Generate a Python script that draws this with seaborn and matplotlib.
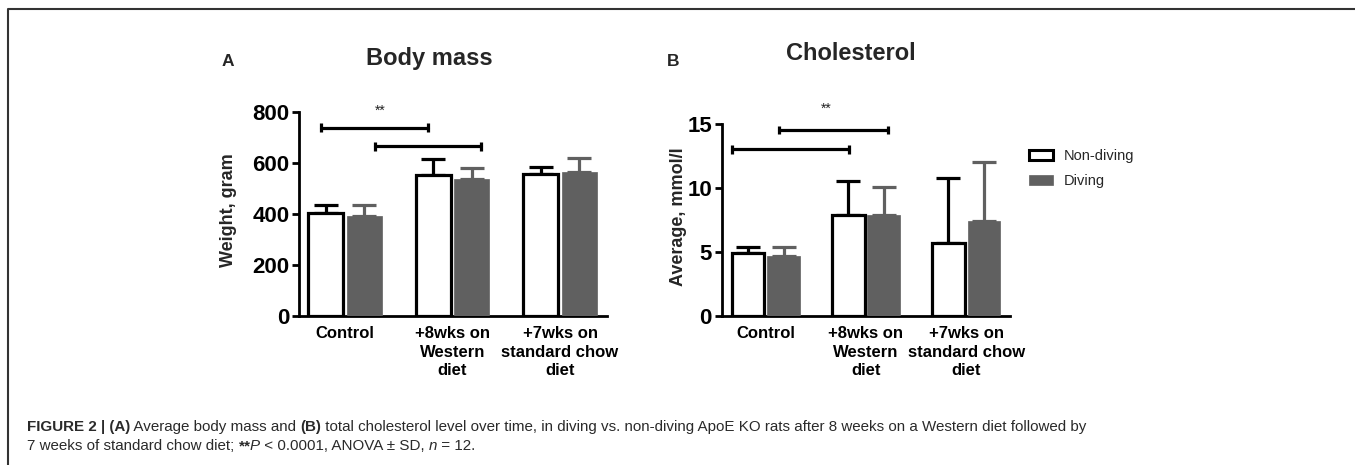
import numpy as np
import pandas as pd
import matplotlib
matplotlib.use("Agg")
import matplotlib.pyplot as plt
from matplotlib.patches import Patch
from matplotlib.lines import Line2D
import seaborn as sns

# ---------------- data ----------------
categories = ["Control", "+8wks on\nWestern\ndiet", "+7wks on\nstandard chow\ndiet"]
groups = ["Non-diving", "Diving"]

mass_nondiving = [405, 553, 556]
mass_nondiving_sd = [30, 61, 29]
mass_diving = [393, 538, 563]
mass_diving_sd = [42, 40, 55]

chol_nondiving = [4.9, 7.9, 5.74]
chol_nondiving_sd = [0.52, 2.69, 5.03]
chol_diving = [4.69, 7.9, 7.46]
chol_diving_sd = [0.68, 2.22, 4.61]

mass_yticks = [0, 200, 400, 600, 800]
chol_yticks = [0, 5, 10, 15]

# significance brackets: (x_start, x_end, y)
mass_brackets = [(-0.226, 0.769, 737), (0.279, 1.265, 664)]
mass_star = (0.326, 805)
chol_brackets = [(0.131, 1.221, 14.55), (-0.34, 0.832, 13.04)]
chol_star = (0.607, 16.2)

GRAY = "#606060"

sns.set_style("ticks")
plt.rcParams["font.family"] = ["Liberation Sans", "DejaVu Sans"]

W, H = 1355, 465
fig = plt.figure(figsize=(W / 100, H / 100), dpi=100)


def make_df(nd, dv):
    rows = []
    for c, v in zip(categories, nd):
        rows.append({"cat": c, "group": "Non-diving", "val": v})
    for c, v in zip(categories, dv):
        rows.append({"cat": c, "group": "Diving", "val": v})
    return pd.DataFrame(rows)


def panel(rect, nd, nd_sd, dv, dv_sd, yticks, ylabel, label_x, brackets, star, xlim):
    ax = fig.add_axes(rect)
    df = make_df(nd, dv)
    sns.barplot(data=df, x="cat", y="val", hue="group", order=categories,
                hue_order=groups, palette={"Non-diving": "white", "Diving": GRAY},
                errorbar=None, width=0.71, gap=0.08, legend=False, ax=ax,
                saturation=1)
    for cont, sds, col in [(ax.containers[0], nd_sd, "black"), (ax.containers[1], dv_sd, GRAY)]:
        xs, ys = [], []
        for bar in cont:
            if col == "black":
                bar.set_edgecolor("black")
                bar.set_linewidth(2.3)
            else:
                bar.set_edgecolor(GRAY)
                bar.set_linewidth(0.5)
            bar.set_zorder(3)
            xs.append(bar.get_x() + bar.get_width() / 2)
            ys.append(bar.get_height())
        ax.errorbar(xs, ys, yerr=[np.zeros(len(sds)), sds], fmt="none",
                    ecolor=col, elinewidth=2.3, capsize=8.5, capthick=2.3, zorder=2)
    ax.set_ylim(yticks[0], yticks[-1])
    ax.set_yticks(yticks)
    ax.set_xlim(*xlim)
    ax.set_xlabel("")
    ax.set_ylabel(ylabel, fontsize=13, fontweight="bold")
    ax.yaxis.set_label_coords(label_x, 0.52)
    for sp in ["top", "right"]:
        ax.spines[sp].set_visible(False)
    for sp in ["left", "bottom"]:
        ax.spines[sp].set_linewidth(2.0)
        ax.spines[sp].set_color("black")
        ax.spines[sp].set_capstyle("projecting")
    ax.tick_params(axis="y", length=5, width=2.0, labelsize=16, pad=2, colors="black")
    ax.tick_params(axis="x", length=0, labelsize=12, pad=7, colors="black")
    for t in ax.get_yticklabels() + ax.get_xticklabels():
        t.set_fontweight("bold")
    for t in ax.get_xticklabels():
        t.set_linespacing(1.32)
    yr = yticks[-1] - yticks[0]
    tick = yr * 0.022
    for x0, x1, y in brackets:
        ax.plot([x0, x1], [y, y], color="black", lw=2.3, clip_on=False, zorder=5)
        for xx in (x0, x1):
            ax.plot([xx, xx], [y - tick, y + tick], color="black", lw=2.3,
                    clip_on=False, zorder=5, solid_capstyle="butt")
    ax.text(star[0], star[1], "**", ha="center", va="center", fontsize=10,
            clip_on=False, color="#222222")
    return ax


axA = panel([299 / W, 1 - 316 / H, 308 / W, (316 - 111.7) / H],
            mass_nondiving, mass_nondiving_sd, mass_diving, mass_diving_sd,
            mass_yticks, "Weight, gram", -0.202, mass_brackets, mass_star, (-0.428, 2.437))
axB = panel([721.7 / W, 1 - 316 / H, 288 / W, (316 - 124.3) / H],
            chol_nondiving, chol_nondiving_sd, chol_diving, chol_diving_sd,
            chol_yticks, "Average, mmol/l", -0.1215, chol_brackets, chol_star, (-0.44, 2.435))

# titles and panel letters
fig.text(429 / W, 1 - 58 / H, "Body mass", ha="center", va="center",
         fontsize=17, fontweight="bold")
fig.text(851 / W, 1 - 54 / H, "Cholesterol", ha="center", va="center",
         fontsize=17, fontweight="bold")
fig.text(228 / W, 1 - 62 / H, "A", ha="center", va="center", fontsize=12.5, fontweight="bold")
fig.text(673 / W, 1 - 62 / H, "B", ha="center", va="center", fontsize=12.5, fontweight="bold")

# legend
handles = [Patch(facecolor="white", edgecolor="black", linewidth=2.2),
           Patch(facecolor=GRAY, edgecolor=GRAY, linewidth=0.5)]
fig.legend(handles, groups, loc="upper left", bbox_to_anchor=(1029 / W, 1 - 149 / H),
           frameon=False, fontsize=10.5, handlelength=1.65, handleheight=0.75,
           handletextpad=0.75, labelspacing=0.75, borderpad=0, borderaxespad=0)

# figure frame (top and left rules)
fig.add_artist(Line2D([8 / W, 8 / W, 1], [0, 1 - 9.5 / H, 1 - 9.5 / H],
                      transform=fig.transFigure, color="#333333", lw=1.5))

# caption built from consecutive text pieces on a shared baseline
CAP = 10.9
CAPC = "#2a2a2a"
renderer = fig.canvas.get_renderer()


def chain(x_px, y_px, pieces):
    x = x_px
    for txt, style, nudge in pieces:
        kw = dict(fontsize=CAP, color=CAPC, va="baseline", ha="left")
        if style == "b":
            kw["fontweight"] = "bold"
        elif style == "i":
            kw["fontstyle"] = "italic"
        x += nudge
        t = fig.text(x / W, 1 - y_px / H, txt, **kw)
        bb = t.get_window_extent(renderer=renderer)
        x = bb.x1


chain(27, 431, [
    ("FIGURE 2 | (A)", "b", 0),
    (" Average body mass and ", "n", 0),
    ("(B)", "b", 0),
    (" total cholesterol level over time, in diving vs. non-diving ApoE KO rats after 8 weeks on a Western diet followed by", "n", 0),
])
chain(27, 450, [
    ("7 weeks of standard chow diet; ", "n", 0),
    ("**", "b", 0),
    ("P", "i", -1),
    (" < 0.0001, ANOVA \u00b1 SD, ", "n", 0),
    ("n", "i", 0),
    (" = 12.", "n", 0),
])

fig.savefig("out.png", dpi=100)
